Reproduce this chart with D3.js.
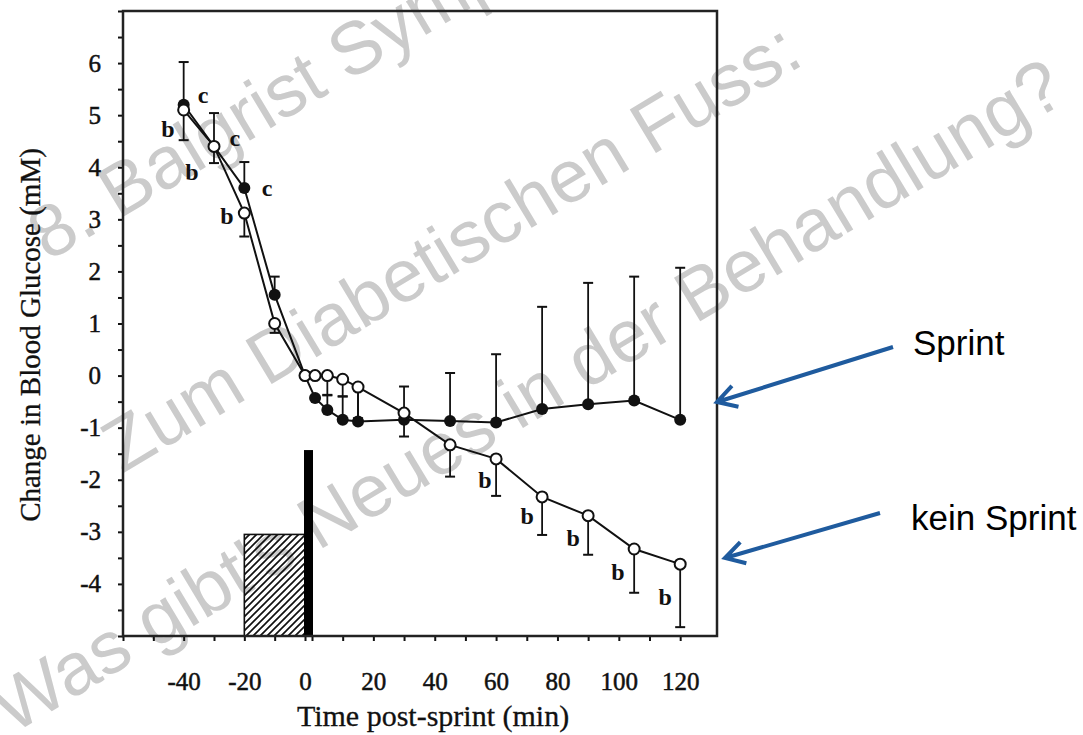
<!DOCTYPE html>
<html>
<head>
<meta charset="utf-8">
<script src="https://cdn.jsdelivr.net/npm/d3@7"></script>
<style>
  body { margin: 0; background: #fff; }
  svg { display: block; }
</style>
</head>
<body>
<div id="chart"></div>
<script>
// sample times (min); t <= 0 sits on the pre-sprint part of the broken axis
const timePoints = [-40, -30, -20, -10, 0, 1, 5, 10, 15, 30, 45, 60, 75, 90, 105, 120];
const sprintValues = [5.2, 4.4, 3.6, 1.55, 0.0, -0.43, -0.66, -0.85, -0.88, -0.85, -0.87, -0.9, -0.64, -0.55, -0.48, -0.85];
const sprintErrUp = [0.82, 0.64, 0.5, 0.35, 0, 0, 0.28, 0.45, 0.6, 0.64, 0.92, 1.31, 1.96, 2.33, 2.38, 2.92];
const noSprintValues = [5.1, 4.4, 3.12, 1.0, 0.0, 0.0, 0.0, -0.07, -0.22, -0.72, -1.33, -1.6, -2.33, -2.69, -3.33, -3.62];
const noSprintErrDown = [0.58, 0.32, 0.45, 0.18, 0, 0, 0.37, 0.33, 0.6, 0.45, 0.61, 0.71, 0.73, 0.75, 0.84, 1.21];

// significance letters, placed in data units
const letterTimes = [-33.6, -45.2, -23.1, -37.3, -12.5, -25.7, 56.4, 70.1, 85.1, 99.7, 115.1];
const letterValues = [5.35, 4.75, 4.52, 3.91, 3.56, 3.08, -2.0, -2.68, -3.12, -3.77, -4.25];
const letterText = ["c", "b", "c", "b", "c", "b", "b", "b", "b", "b", "b"];

// exercise blocks: hatched warm-up and black sprint bar
const warmupRange = [-20, 0];
const warmupTop = -3.05;
const sprintTop = -1.43;

const yTickLabels = [-4, -3, -2, -1, 0, 1, 2, 3, 4, 5, 6];
const xTickLabelsPre = [-40, -20, 0];
const xTickLabelsPost = [20, 40, 60, 80, 100, 120];

const watermarkLines = ["8. Balgrist Symposium", "Zum Diabetischen Fuss:", "Was gibt's Neues in der Behandlung?"];

const width = 1083, height = 735;
const plot = { left: 123, right: 717, top: 11, bottom: 636 };

const svg = d3.select("#chart").append("svg")
    .attr("width", width)
    .attr("height", height);

const serif = '"Liberation Serif", "Times New Roman", serif';
const sans = '"Liberation Sans", Arial, sans-serif';

// watermark behind everything
const wmStarts = [[48, 262], [122, 474], [12, 735]];
svg.append("g").selectAll("text")
    .data(watermarkLines)
    .enter().append("text")
    .attr("transform", (d, i) => `translate(${wmStarts[i][0]},${wmStarts[i][1]}) rotate(-31)`)
    .style("font-family", sans)
    .style("font-size", "74px")
    .style("fill", "#cbcbcb")
    .text(d => d);

const xPre = d3.scaleLinear().domain([-60, 0]).range([plot.left, 305]);
const xPost = d3.scaleLinear().domain([0, 132]).range([312, plot.right]);
const x = t => t <= 0 ? xPre(t) : xPost(t);
const y = d3.scaleLinear().domain([-5, 7]).range([plot.bottom, plot.top]);

// hatch pattern
const defs = svg.append("defs");
defs.append("pattern")
    .attr("id", "hatch")
    .attr("patternUnits", "userSpaceOnUse")
    .attr("width", 7)
    .attr("height", 7)
    .append("path")
    .attr("d", "M-1,1 l2,-2 M0,7 l7,-7 M6,8 l2,-2")
    .attr("stroke", "#111")
    .attr("stroke-width", 1.7);

svg.append("rect")
    .attr("x", xPre(warmupRange[0]))
    .attr("y", y(warmupTop))
    .attr("width", xPre(warmupRange[1]) - xPre(warmupRange[0]))
    .attr("height", y(-5) - y(warmupTop))
    .attr("fill", "url(#hatch)")
    .attr("stroke", "#111")
    .attr("stroke-width", 1.6);

svg.append("rect")
    .attr("x", xPre(0) - 1)
    .attr("y", y(sprintTop))
    .attr("width", xPost(0) - xPre(0) + 2)
    .attr("height", y(-5) - y(sprintTop))
    .attr("fill", "#000");

// axes
const tickFont = g => g.selectAll("text")
    .style("font-family", serif)
    .style("font-size", "25px")
    .style("fill", "#111")
    .style("stroke", "#111")
    .style("stroke-width", 0.5);

svg.append("g")
    .attr("transform", `translate(${plot.left},0)`)
    .call(d3.axisLeft(y)
        .tickValues(d3.range(-5, 7.01, 0.5))
        .tickSize(5)
        .tickPadding(17)
        .tickFormat(d => yTickLabels.includes(d) ? String(d) : ""))
    .call(g => g.select(".domain").remove())
    .call(g => g.selectAll("line").attr("stroke", "#111").attr("stroke-width", 2))
    .call(tickFont);

svg.append("g")
    .attr("transform", `translate(0,${plot.bottom})`)
    .call(d3.axisBottom(xPre)
        .tickValues(d3.range(-60, 0.1, 10))
        .tickSize(5)
        .tickPadding(31)
        .tickFormat(d => xTickLabelsPre.includes(d) ? String(d) : ""))
    .call(g => g.select(".domain").remove())
    .call(g => g.selectAll("line").attr("stroke", "#111").attr("stroke-width", 2))
    .call(tickFont);

svg.append("g")
    .attr("transform", `translate(0,${plot.bottom})`)
    .call(d3.axisBottom(xPost)
        .tickValues(d3.range(0, 120.1, 10))
        .tickSize(5)
        .tickPadding(31)
        .tickFormat(d => xTickLabelsPost.includes(d) ? String(d) : ""))
    .call(g => g.select(".domain").remove())
    .call(g => g.selectAll("line").attr("stroke", "#111").attr("stroke-width", 2))
    .call(tickFont);

// frame
svg.append("rect")
    .attr("x", plot.left)
    .attr("y", plot.top)
    .attr("width", plot.right - plot.left)
    .attr("height", plot.bottom - plot.top)
    .attr("fill", "none")
    .attr("stroke", "#222")
    .attr("stroke-width", 2.5);

// axis titles
svg.append("text")
    .attr("x", 433)
    .attr("y", 726)
    .attr("text-anchor", "middle")
    .style("font-family", serif)
    .style("font-size", "30px")
    .style("fill", "#111")
    .style("stroke", "#111")
    .style("stroke-width", 0.3)
    .text("Time post-sprint (min)");

svg.append("text")
    .attr("transform", "translate(40,335) rotate(-90)")
    .attr("text-anchor", "middle")
    .style("font-family", serif)
    .style("font-size", "29px")
    .style("fill", "#111")
    .style("stroke", "#111")
    .style("stroke-width", 0.3)
    .text("Change in Blood Glucose (mM)");

// series
const sprint = timePoints.map((t, i) => ({ t, v: sprintValues[i], e: sprintErrUp[i] }));
const noSprint = timePoints.map((t, i) => ({ t, v: noSprintValues[i], e: -noSprintErrDown[i] }));

const line = d3.line().x(d => x(d.t)).y(d => y(d.v));

[sprint, noSprint].forEach(series => {
    svg.append("path")
        .datum(series)
        .attr("d", line)
        .attr("fill", "none")
        .attr("stroke", "#111")
        .attr("stroke-width", 2);

    const eb = svg.append("g")
        .selectAll("g")
        .data(series.filter(d => d.e !== 0))
        .enter().append("g");
    eb.append("line")
        .attr("x1", d => x(d.t)).attr("x2", d => x(d.t))
        .attr("y1", d => y(d.v)).attr("y2", d => y(d.v + d.e))
        .attr("stroke", "#111").attr("stroke-width", 1.8);
    eb.append("line")
        .attr("x1", d => x(d.t) - 5).attr("x2", d => x(d.t) + 5)
        .attr("y1", d => y(d.v + d.e)).attr("y2", d => y(d.v + d.e))
        .attr("stroke", "#111").attr("stroke-width", 2);
});

svg.append("g").selectAll("circle")
    .data(sprint)
    .enter().append("circle")
    .attr("cx", d => x(d.t))
    .attr("cy", d => y(d.v))
    .attr("r", 6)
    .attr("fill", "#111");

svg.append("g").selectAll("circle")
    .data(noSprint)
    .enter().append("circle")
    .attr("cx", d => x(d.t))
    .attr("cy", d => y(d.v))
    .attr("r", 5.5)
    .attr("fill", "#fff")
    .attr("stroke", "#111")
    .attr("stroke-width", 2);

svg.append("g").selectAll("text")
    .data(letterText)
    .enter().append("text")
    .attr("x", (d, i) => x(letterTimes[i]))
    .attr("y", (d, i) => y(letterValues[i]))
    .attr("dy", d => d === "b" ? "0.35em" : "0.25em")
    .attr("text-anchor", "middle")
    .style("font-family", serif)
    .style("font-size", "24px")
    .style("font-weight", "bold")
    .style("fill", "#111")
    .text(d => d);

// legend arrows
const arrowColor = "#1f5b9e";
const arrows = [
    { label: "Sprint", tail: [893, 347], tip: [717, 402], tx: 913, ty: 355 },
    { label: "kein Sprint", tail: [880, 513], tip: [725, 558], tx: 911, ty: 530 }
];
arrows.forEach(a => {
    const ang = Math.atan2(a.tail[1] - a.tip[1], a.tail[0] - a.tip[0]);
    const len = 22, spread = Math.PI / 6;
    const p1 = [a.tip[0] + len * Math.cos(ang + spread), a.tip[1] + len * Math.sin(ang + spread)];
    const p2 = [a.tip[0] + len * Math.cos(ang - spread), a.tip[1] + len * Math.sin(ang - spread)];
    svg.append("path")
        .attr("d", `M${a.tail}L${a.tip}M${p1}L${a.tip}L${p2}`)
        .attr("fill", "none")
        .attr("stroke", arrowColor)
        .attr("stroke-width", 4)
        .attr("stroke-linejoin", "miter");
    svg.append("text")
        .attr("x", a.tx)
        .attr("y", a.ty)
        .style("font-family", sans)
        .style("font-size", "35px")
        .style("fill", "#000")
        .text(a.label);
});
</script>
</body>
</html>
